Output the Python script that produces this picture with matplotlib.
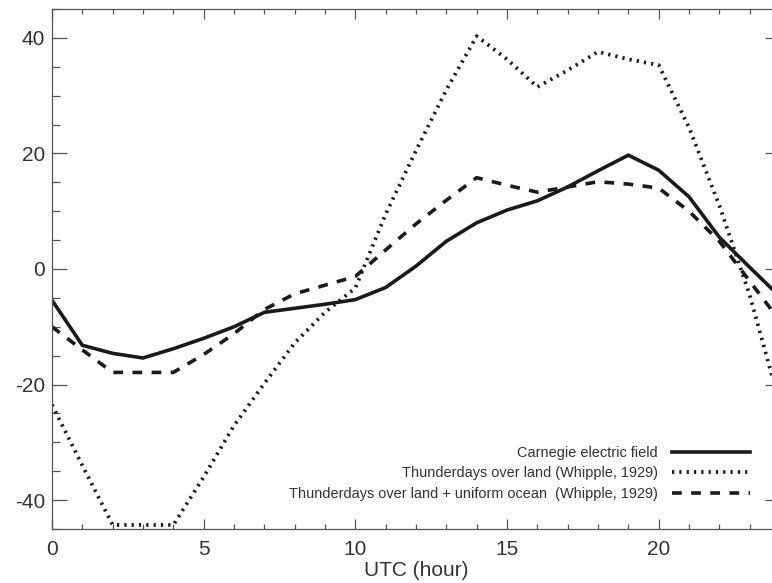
import numpy as np
import matplotlib
matplotlib.use("Agg")
import matplotlib.pyplot as plt
from matplotlib.ticker import MultipleLocator

plt.rcParams['font.family'] = ['Liberation Sans', 'DejaVu Sans']
plt.rcParams['axes.unicode_minus'] = False

# hourly values, UTC 0..24
hours = list(range(25))
carnegie = [-5.4, -13.2, -14.6, -15.4, -13.8, -12.0, -10.0, -7.5, -6.8, -6.1,
            -5.3, -3.2, 0.5, 4.8, 8.0, 10.2, 11.8, 14.2, 17.0, 19.7,
            17.1, 12.5, 5.5, 0.3, -4.8]
land = [-23.5, -34.0, -44.3, -44.3, -44.3, -36.0, -27.1, -19.8, -12.8, -7.5,
        -3.3, 9.5, 20.5, 31.0, 40.3, 36.3, 31.5, 34.4, 37.6, 36.3,
        35.3, 24.5, 11.0, -4.5, -23.5]
land_ocean = [-10.0, -14.0, -17.9, -17.9, -17.9, -14.8, -11.2, -7.0, -4.3, -2.8,
              -1.3, 3.3, 7.8, 11.9, 15.8, 14.5, 13.3, 14.2, 15.1, 14.7,
              14.0, 10.0, 4.8, -2.1, -9.0]

labels = ["Carnegie electric field",
          "Thunderdays over land (Whipple, 1929)",
          "Thunderdays over land + uniform ocean  (Whipple, 1929)"]

fig = plt.figure(figsize=(7.72, 5.83), dpi=100)
ax = fig.add_axes([52/772, 1 - 529/583, 728/772, 520/583])

ink = '#1a1a1a'
ax.plot(hours, carnegie, color=ink, lw=2.6, solid_joinstyle='miter', label=labels[0])
ax.plot(hours, land, color=ink, lw=2.7, dashes=(0.6, 1.35), label=labels[1])
ax.plot(hours, land_ocean, color=ink, lw=2.6, dashes=(2.7, 2.6), label=labels[2])

ax.set_xlim(0, 24)
ax.set_ylim(-45, 45)
ax.xaxis.set_major_locator(MultipleLocator(5))
ax.xaxis.set_minor_locator(MultipleLocator(1))
ax.yaxis.set_major_locator(MultipleLocator(20))
ax.yaxis.set_minor_locator(MultipleLocator(5))

grey = '#555555'
for s in ax.spines.values():
    s.set_color(grey)
    s.set_linewidth(0.9)
ax.tick_params(which='both', direction='in', top=True, right=True,
               colors=grey, labelcolor='#333333', labelsize=15, width=0.9)
ax.tick_params(axis='x', which='major', length=7.2, pad=8)
ax.tick_params(axis='x', which='minor', length=3.6)
ax.tick_params(axis='y', which='major', length=10.8, pad=5)
ax.tick_params(axis='y', which='minor', length=5.4)

ax.set_xlabel("UTC (hour)", fontsize=15, color='#333333', labelpad=1)

leg = ax.legend(loc='lower right', bbox_to_anchor=(0.9588, 0.054),
                frameon=False, markerfirst=False, fontsize=10.45,
                handlelength=5.4, handletextpad=0.95, labelspacing=0.45,
                borderpad=0, borderaxespad=0)
for t in leg.get_texts():
    t.set_color('#333333')

fig.savefig("out.png", dpi=100)
